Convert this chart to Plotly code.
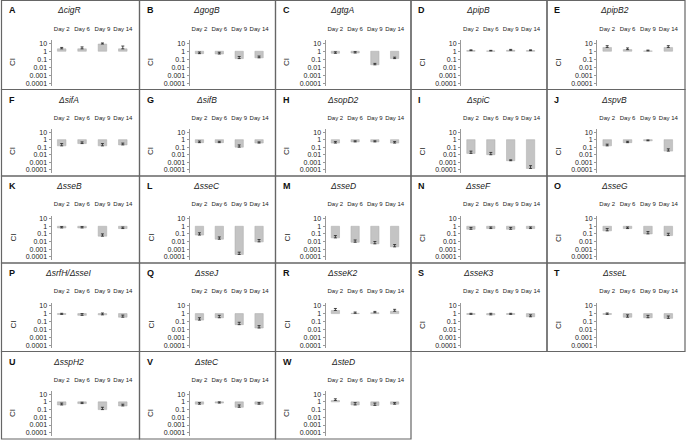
import plotly.graph_objects as go

W, H = 686, 443

letters = list("ABCDEFGHIJKLMNOPQRSTUVW")
mutants = [
    "cigR", "gogB", "gtgA", "pipB", "pipB2",
    "sifA", "sifB", "sopD2", "spiC", "spvB",
    "sseB", "sseC", "sseD", "sseF", "sseG",
    "srfH/\u0394sseI", "sseJ", "sseK2", "sseK3", "sseL",
    "sspH2", "steC", "steD",
]
days = ["Day 2", "Day 6", "Day 9", "Day 14"]

# competitive index per mutant, Day 2 / 6 / 9 / 14
ci_values = [
    [2.0, 2.0, 8.0, 2.0],
    [0.5, 0.45, 0.12, 0.15],
    [0.55, 0.6, 0.02, 0.12],
    [1.2, 1.1, 1.3, 1.2],
    [3.0, 1.6, 1.1, 3.0],
    [0.15, 0.3, 0.15, 0.2],
    [0.4, 0.4, 0.1, 0.35],
    [0.35, 0.5, 0.5, 0.35],
    [0.015, 0.01, 0.0016, 0.00015],
    [0.15, 0.4, 0.7, 0.03],
    [0.6, 0.6, 0.05, 0.5],
    [0.07, 0.02, 0.0002, 0.009],
    [0.03, 0.008, 0.005, 0.002],
    [0.4, 0.5, 0.4, 0.5],
    [0.25, 0.5, 0.1, 0.06],
    [0.8, 0.6, 0.7, 0.35],
    [0.15, 0.3, 0.04, 0.015],
    [2.5, 1.1, 1.3, 2.0],
    [0.8, 0.7, 0.8, 0.4],
    [0.8, 0.35, 0.3, 0.25],
    [0.4, 0.6, 0.1, 0.3],
    [0.5, 0.7, 0.2, 0.5],
    [1.5, 0.4, 0.35, 0.5],
]
ci_err = [
    [1.0, 1.5, 3.0, 2.5],
    [0.3, 0.3, 0.1, 0.1],
    [0.3, 0.3, 0.01, 0.06],
    [0.3, 0.2, 0.4, 0.3],
    [2.0, 1.0, 0.3, 2.0],
    [0.15, 0.2, 0.15, 0.15],
    [0.25, 0.2, 0.1, 0.15],
    [0.2, 0.2, 0.2, 0.2],
    [0.015, 0.01, 0.0005, 0.0002],
    [0.1, 0.2, 0.2, 0.03],
    [0.3, 0.3, 0.05, 0.3],
    [0.07, 0.02, 0.0002, 0.009],
    [0.03, 0.008, 0.005, 0.002],
    [0.3, 0.3, 0.3, 0.3],
    [0.25, 0.3, 0.1, 0.06],
    [0.3, 0.4, 0.5, 0.3],
    [0.15, 0.3, 0.04, 0.015],
    [2.0, 0.5, 0.6, 1.5],
    [0.3, 0.4, 0.3, 0.3],
    [0.4, 0.35, 0.3, 0.25],
    [0.3, 0.3, 0.1, 0.2],
    [0.3, 0.3, 0.2, 0.3],
    [1.0, 0.4, 0.35, 0.3],
]
ytick_vals = [0.0001, 0.001, 0.01, 0.1, 1, 10]
ytick_text = ["0.0001", "0.001", "0.01", "0.1", "1", "10"]

# panel borders in pixels
col_x = [1.5, 139.5, 275.5, 411, 547, 685]
row_y = [0.5, 89.5, 176, 263, 351.5, 439]

FONT = "Liberation Sans, Arial, sans-serif"
GRAY = "#666666"


def px(x):
    return x / W


def py(y):
    return 1 - y / H


fig = go.Figure()
shapes = []
annotations = []
layout = {}

for i, (letter, name) in enumerate(zip(letters, mutants)):
    n = i + 1
    r, c = divmod(i, 5)
    L, R = col_x[c], col_x[c + 1]
    T, B = row_y[r], row_y[r + 1]
    xa, ya = f"x{n}", f"y{n}"
    xk = "xaxis" if n == 1 else f"xaxis{n}"
    yk = "yaxis" if n == 1 else f"yaxis{n}"

    vals = ci_values[i]
    fig.add_trace(
        go.Bar(
            x=list(range(4)),
            y=[v - 1 for v in vals],
            base=1,
            width=0.42,
            marker=dict(color="#c4c4c4", line=dict(color="#aaaaaa", width=0.5)),
            error_y=dict(
                type="data",
                symmetric=False,
                array=ci_err[i],
                arrayminus=[0] * 4,
                color="#222222",
                thickness=0.8,
                width=1.5,
            ),
            xaxis=xa,
            yaxis=ya,
            showlegend=False,
        )
    )

    layout[xk] = dict(
        domain=[px(L + 50), px(R - 6.5)],
        range=[-0.5, 3.5],
        anchor="free",
        position=py(T + 31.5),
        side="top",
        tickvals=list(range(4)),
        ticktext=days,
        tickangle=0,
        ticks="",
        showline=False,
        showgrid=False,
        zeroline=False,
        fixedrange=True,
        automargin=False,
        tickfont=dict(family=FONT, size=6, color="#222222"),
    )
    layout[yk] = dict(
        domain=[py(B - 3.5), py(T + 39.5)],
        type="log",
        range=[-4.36, 1.41],
        anchor=xa,
        tickvals=ytick_vals,
        ticktext=ytick_text,
        ticks="outside",
        ticklen=2,
        tickcolor="#999999",
        showline=True,
        linecolor="#999999",
        linewidth=1,
        showgrid=False,
        zeroline=False,
        fixedrange=True,
        automargin=False,
        tickfont=dict(family=FONT, size=7, color="#222222"),
    )

    # baseline at CI = 1 and its category ticks
    shapes.append(dict(type="line", xref=xa, yref=ya, x0=-0.5, x1=3.5, y0=0, y1=0,
                       line=dict(color="#999999", width=1)))
    for t in [0.5, 1.5, 2.5, 3.5]:
        shapes.append(dict(type="line", xref=xa, yref=ya, x0=t, x1=t, y0=0, y1=-0.25,
                           line=dict(color="#999999", width=1)))

    # panel frame
    shapes.append(dict(type="rect", xref="paper", yref="paper",
                       x0=px(L), x1=px(R), y0=py(B), y1=py(T),
                       line=dict(color=GRAY, width=1.2)))

    annotations.append(dict(text=f"<b>{letter}</b>", x=px(L + 5), y=py(T + 10),
                            xref="paper", yref="paper", xanchor="left", yanchor="middle",
                            showarrow=False, font=dict(family=FONT, size=9, color="#111111")))
    annotations.append(dict(text=f"<i>\u0394{name}</i>", x=px(L + 67), y=py(T + 10),
                            xref="paper", yref="paper", xanchor="center", yanchor="middle",
                            showarrow=False, font=dict(family=FONT, size=8.5, color="#222222")))
    annotations.append(dict(text="CI", x=px(L + 11), y=py(T + 62), textangle=-90,
                            xref="paper", yref="paper", xanchor="center", yanchor="middle",
                            showarrow=False, font=dict(family=FONT, size=8, color="#222222")))

fig.update_layout(
    width=W,
    height=H,
    margin=dict(l=0, r=0, t=0, b=0, autoexpand=False),
    paper_bgcolor="white",
    plot_bgcolor="white",
    bargap=0.5,
    shapes=shapes,
    annotations=annotations,
    **layout,
)

fig.write_html(
    "out.html",
    config={"displayModeBar": False},
    post_script="document.body.style.margin = '0';",
)
